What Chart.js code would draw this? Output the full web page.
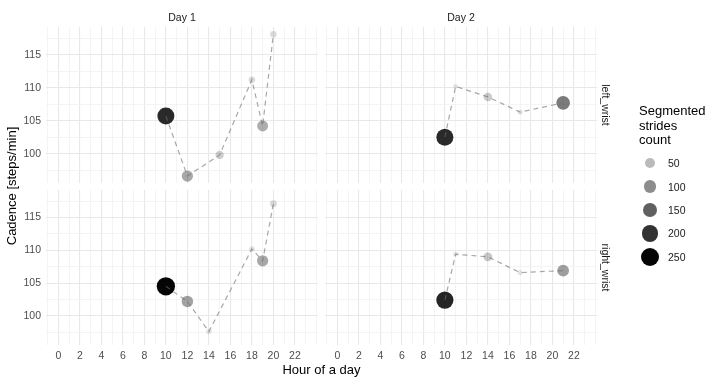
<!DOCTYPE html>
<html>
<head>
<meta charset="utf-8">
<script src="https://cdn.jsdelivr.net/npm/chart.js@4.4.1/dist/chart.umd.min.js"></script>
<style>
  body { margin: 0; background: #fff; font-family: 'Liberation Sans', Arial, sans-serif; }
  #wrap { position: relative; width: 720px; height: 384px; overflow: hidden; }
  #wrap canvas { position: absolute; left: 0; top: 0; }
  #legendHead { position: absolute; left: 639px; top: 104px; font-size: 13px; line-height: 14.5px; color: #000; }
  .key { position: absolute; border-radius: 50%; }
  .keyLabel { position: absolute; font-size: 10.5px; color: #1a1a1a; transform: translateY(-50%); }
</style>
</head>
<body>
<div id="wrap">
  <canvas id="tl" width="720" height="384"></canvas>
  <canvas id="tr" width="720" height="384"></canvas>
  <canvas id="bl" width="720" height="384"></canvas>
  <canvas id="br" width="720" height="384"></canvas>
  <div id="legendHead">Segmented<br>strides<br>count</div>
</div>
<script>
// facets
const days = ['Day 1', 'Day 2'];
const sensors = ['left_wrist', 'right_wrist'];

// left_wrist, Day 1
const hoursLeftDay1 = [10, 12, 15, 18, 19, 20];
const cadenceLeftDay1 = [105.7, 96.6, 99.8, 111.2, 104.2, 118.1];
const stridesLeftDay1 = [210, 70, 28, 13, 65, 13];

// left_wrist, Day 2
const hoursLeftDay2 = [10, 11, 14, 17, 21];
const cadenceLeftDay2 = [102.5, 110.2, 108.6, 106.3, 107.7];
const stridesLeftDay2 = [210, 3, 30, 4, 120];

// right_wrist, Day 1
const hoursRightDay1 = [10, 12, 14, 18, 19, 20];
const cadenceRightDay1 = [104.5, 102.2, 97.6, 110.2, 108.4, 117.1];
const stridesRightDay1 = [250, 75, 5, 6, 70, 15];

// right_wrist, Day 2
const hoursRightDay2 = [10, 11, 14, 17, 21];
const cadenceRightDay2 = [102.4, 109.4, 109.0, 106.6, 106.9];
const stridesRightDay2 = [215, 3, 35, 4, 80];

// axes
const xLabels = [0, 2, 4, 6, 8, 10, 12, 14, 16, 18, 20, 22];
const yLabels = [100, 105, 110, 115];
const xRange = [-1.15, 24.15];
const yRange = [95.55, 119.2];
const xTitle = 'Hour of a day';
const yTitle = 'Cadence [steps/min]';

// size / alpha scale for stride count
const countLimits = [2, 256];
const legendBreaks = [50, 100, 150, 200, 250];

Chart.defaults.font.family = "'Liberation Sans', Arial, sans-serif";

function radiusFor(n) {
    const lo = Math.sqrt(countLimits[0]), hi = Math.sqrt(countLimits[1]);
    const size = 1 + 5 * (Math.sqrt(n) - lo) / (hi - lo);
    return (1.86 + 2.77 * size) / 2;
}

function fillFor(n) {
    const a = 0.1 + 0.9 * (n - countLimits[0]) / (countLimits[1] - countLimits[0]);
    return 'rgba(0,0,0,' + a.toFixed(3) + ')';
}

// major breaks plus ggplot-style minor breaks half way between (and one step outside)
function withMinor(major, range) {
    const step = major[1] - major[0];
    const out = [];
    for (let v = major[0] - step; v <= major[major.length - 1] + step + 1e-9; v += step / 2) {
        if (v >= range[0] && v <= range[1]) out.push(+v.toFixed(4));
    }
    return out;
}
const xGrid = withMinor(xLabels, xRange);
const yGrid = withMinor(yLabels, yRange);

const stripPlugin = {
    id: 'strips',
    afterDraw(chart, args, opts) {
        const a = chart.chartArea, ctx = chart.ctx;
        ctx.save();
        ctx.fillStyle = '#1a1a1a';
        ctx.font = "10.5px 'Liberation Sans', Arial, sans-serif";
        ctx.textAlign = 'center';
        ctx.textBaseline = 'middle';
        if (opts.top) ctx.fillText(opts.top, (a.left + a.right) / 2, a.top - 9);
        if (opts.right) {
            ctx.translate(a.right + 8, (a.top + a.bottom) / 2);
            ctx.rotate(Math.PI / 2);
            ctx.fillText(opts.right, 0, 0);
        }
        if (opts.axisTitles) {
            // shared titles, centred on the panel block
            ctx.fillStyle = '#000';
            ctx.font = "13px 'Liberation Sans', Arial, sans-serif";
            ctx.fillText(xTitle, 321.5, 370);
            ctx.translate(12, 186);
            ctx.rotate(-Math.PI / 2);
            ctx.fillText(yTitle, 0, 0);
        }
        ctx.restore();
    }
};

function gridStyle(labels) {
    return {
        color: c => labels.includes(c.tick.value) ? '#e8e8e8' : '#f1f1f1',
        lineWidth: c => labels.includes(c.tick.value) ? 1.1 : 0.8,
        drawTicks: false
    };
}

function panel(id, hours, cadence, strides, pad, showX, showY, strips) {
    const pts = hours.map((h, i) => ({ x: h, y: cadence[i] }));
    return new Chart(document.getElementById(id), {
        data: {
            datasets: [{
                type: 'line',
                data: pts,
                borderColor: 'rgba(110,110,110,0.6)',
                borderWidth: 1.2,
                borderDash: [5, 4],
                pointRadius: 0,
                tension: 0,
                fill: false,
                order: 0
            }, {
                type: 'scatter',
                data: pts,
                pointRadius: strides.map(radiusFor),
                pointBackgroundColor: strides.map(fillFor),
                pointBorderWidth: 0,
                order: 1
            }]
        },
        options: {
            responsive: false,
            animation: false,
            events: [],
            layout: { padding: pad },
            plugins: {
                legend: { display: false },
                tooltip: { enabled: false },
                strips: strips
            },
            scales: {
                x: {
                    type: 'linear',
                    min: xRange[0],
                    max: xRange[1],
                    afterBuildTicks: s => { s.ticks = xGrid.map(v => ({ value: v })); },
                    afterFit: s => { s.height = showX ? 20 : 0; },
                    border: { display: false },
                    grid: gridStyle(xLabels),
                    ticks: {
                        display: showX,
                        autoSkip: false,
                        maxRotation: 0,
                        padding: 5,
                        color: '#4d4d4d',
                        font: { size: 10.5 },
                        callback: v => xLabels.includes(v) ? String(v) : ''
                    }
                },
                y: {
                    type: 'linear',
                    min: yRange[0],
                    max: yRange[1],
                    afterBuildTicks: s => { s.ticks = yGrid.map(v => ({ value: v })); },
                    afterFit: s => { s.width = showY ? 46 : 0; },
                    border: { display: false },
                    grid: gridStyle(yLabels),
                    ticks: {
                        display: showY,
                        autoSkip: false,
                        padding: 5,
                        color: '#4d4d4d',
                        font: { size: 10.5 },
                        callback: v => yLabels.includes(v) ? String(v) : ''
                    }
                }
            }
        },
        plugins: [stripPlugin]
    });
}

panel('tl', hoursLeftDay1, cadenceLeftDay1, stridesLeftDay1,
      { left: 0, top: 27, right: 402, bottom: 201 }, false, true, { top: days[0] });
panel('tr', hoursLeftDay2, cadenceLeftDay2, stridesLeftDay2,
      { left: 325, top: 27, right: 123, bottom: 201 }, false, false, { top: days[1], right: sensors[0] });
panel('bl', hoursRightDay1, cadenceRightDay1, stridesRightDay1,
      { left: 0, top: 190, right: 402, bottom: 19 }, true, true, { axisTitles: true });
panel('br', hoursRightDay2, cadenceRightDay2, stridesRightDay2,
      { left: 325, top: 190, right: 123, bottom: 19 }, true, false, { right: sensors[1] });

// legend keys
const wrap = document.getElementById('wrap');
legendBreaks.forEach((b, i) => {
    const y = 163.3 + i * 23.35;
    const r = radiusFor(b);
    const dot = document.createElement('div');
    dot.className = 'key';
    dot.style.left = (650 - r) + 'px';
    dot.style.top = (y - r) + 'px';
    dot.style.width = dot.style.height = (2 * r) + 'px';
    dot.style.background = fillFor(b);
    wrap.appendChild(dot);
    const lab = document.createElement('div');
    lab.className = 'keyLabel';
    lab.style.left = '668px';
    lab.style.top = y + 'px';
    lab.textContent = b;
    wrap.appendChild(lab);
});
</script>
</body>
</html>
